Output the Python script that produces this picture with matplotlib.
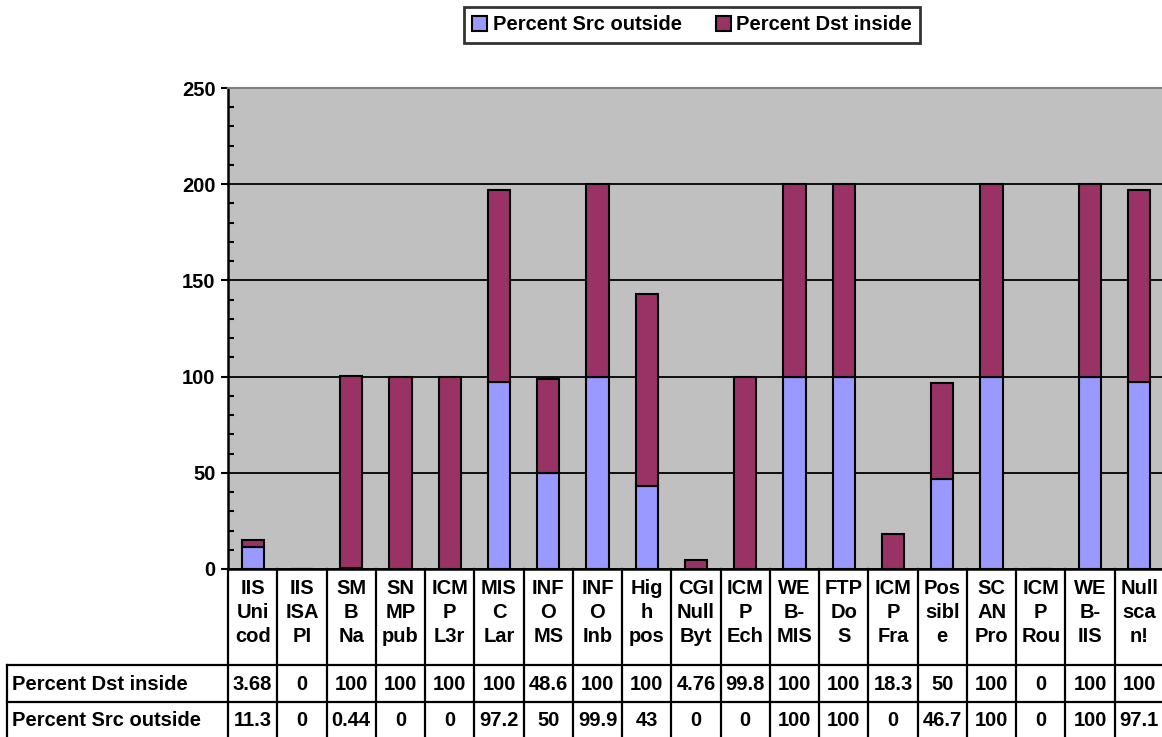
import matplotlib.pyplot as plt
from matplotlib.patches import Patch
from matplotlib.lines import Line2D
from matplotlib.transforms import blended_transform_factory

plt.rcParams['font.family'] = ['Liberation Sans', 'DejaVu Sans']
plt.rcParams['font.weight'] = 'bold'

# column headings of the data table (already wrapped to three lines)
categories = [
    ['IIS', 'Uni', 'cod'], ['IIS', 'ISA', 'PI'], ['SM', 'B', 'Na'], ['SN', 'MP', 'pub'],
    ['ICM', 'P', 'L3r'], ['MIS', 'C', 'Lar'], ['INF', 'O', 'MS'], ['INF', 'O', 'Inb'],
    ['Hig', 'h', 'pos'], ['CGI', 'Null', 'Byt'], ['ICM', 'P', 'Ech'], ['WE', 'B-', 'MIS'],
    ['FTP', 'Do', 'S'], ['ICM', 'P', 'Fra'], ['Pos', 'sibl', 'e'], ['SC', 'AN', 'Pro'],
    ['ICM', 'P', 'Rou'], ['WE', 'B-', 'IIS'], ['Null', 'sca', 'n!'],
]
src_outside = [11.3, 0, 0.44, 0, 0, 97.2, 50, 99.9, 43, 0, 0, 100, 100, 0, 46.7, 100, 0, 100, 97.1]
dst_inside = [3.68, 0, 100, 100, 100, 100, 48.6, 100, 100, 4.76, 99.8, 100, 100, 18.3, 50, 100, 0, 100, 100]
yticks = [0, 50, 100, 150, 200, 250]

W, H = 1162, 737
FS = 14.5
SRC_COLOR = '#9999FF'
DST_COLOR = '#993366'

fig = plt.figure(figsize=(W / 100, H / 100), dpi=100)
# plot area in pixel terms: left 228, right 1164, top 88, bottom 569
ax = fig.add_axes([228 / W, (H - 569) / H, 936 / W, 481 / H])
ax.set_facecolor('#C0C0C0')

x = list(range(len(categories)))
ax.bar(x, src_outside, width=0.45, color=SRC_COLOR, edgecolor='black', linewidth=1.5,
       zorder=3, label='Percent Src outside')
ax.bar(x, dst_inside, width=0.45, bottom=src_outside, color=DST_COLOR, edgecolor='black',
       linewidth=1.5, zorder=3, label='Percent Dst inside')

ax.set_xlim(-0.5, len(categories) - 0.5)
ax.set_ylim(0, 250)
ax.set_yticks(yticks)
ax.set_yticklabels([str(v) for v in yticks], fontsize=FS, fontweight='bold')
ax.set_yticks(range(0, 251, 10), minor=True)
ax.tick_params(axis='y', which='major', direction='out', length=5, width=1.5, pad=4)
ax.tick_params(axis='y', which='minor', direction='in', length=4, width=1.5)
ax.set_xticks([])
ax.yaxis.grid(True, color='black', linewidth=1.3, zorder=1)
ax.set_axisbelow(True)
ax.spines['left'].set_linewidth(1.8)
ax.spines['bottom'].set_linewidth(1.8)
ax.spines['top'].set_color('#808080')
ax.spines['top'].set_linewidth(1.5)
ax.spines['right'].set_visible(False)


def ay(py):
    # pixel row -> axes y coordinate
    return (569 - py) / 481


# data table below the plot
tr = ax.get_xaxis_transform()
trf = blended_transform_factory(fig.transFigure, ax.transAxes)
lw = 1.6
for i, lines in enumerate(categories):
    for k, txt in enumerate(lines):
        ax.text(i, ay(588 + 24 * k), txt, transform=tr, ha='center', va='center',
                fontsize=FS, fontweight='bold', clip_on=False)
    ax.text(i, ay(684), f'{dst_inside[i]:g}', transform=tr, ha='center', va='center',
            fontsize=FS, fontweight='bold', clip_on=False)
    ax.text(i, ay(721), f'{src_outside[i]:g}', transform=tr, ha='center', va='center',
            fontsize=FS, fontweight='bold', clip_on=False)

for b in range(len(categories) + 1):
    ax.add_line(Line2D([b - 0.5, b - 0.5], [0, ay(745)], transform=tr, color='black',
                       linewidth=lw, clip_on=False))

for py in (665, 702):
    fig.add_artist(Line2D([7 / W, 228 / W], [ay(py), ay(py)], transform=trf,
                          color='black', linewidth=lw))
    ax.add_line(Line2D([-0.5, len(categories) - 0.5], [ay(py), ay(py)], transform=tr,
                       color='black', linewidth=lw, clip_on=False))
fig.add_artist(Line2D([7 / W, 7 / W], [ay(665), ay(745)], transform=trf,
                      color='black', linewidth=lw))

fig.text(12 / W, 1 - 684 / H, 'Percent Dst inside', ha='left', va='center',
         fontsize=FS, fontweight='bold')
fig.text(12 / W, 1 - 721 / H, 'Percent Src outside', ha='left', va='center',
         fontsize=FS, fontweight='bold')

handles = [Patch(facecolor=SRC_COLOR, edgecolor='black', linewidth=1.5),
           Patch(facecolor=DST_COLOR, edgecolor='black', linewidth=1.5)]
leg = fig.legend(handles, ['Percent Src outside', 'Percent Dst inside'], ncol=2,
                 loc='center', bbox_to_anchor=(692 / W, 1 - 25 / H),
                 prop={'size': FS, 'weight': 'bold'}, frameon=True, fancybox=False,
                 handlelength=0.75, handleheight=0.75, handletextpad=0.25,
                 columnspacing=1.7, borderpad=0.4, borderaxespad=0.2)
leg.get_frame().set_edgecolor('black')
leg.get_frame().set_linewidth(2.0)

fig.savefig('out.png', dpi=100)
